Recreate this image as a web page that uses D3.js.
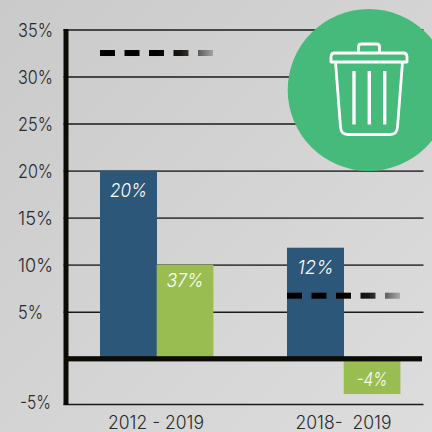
<!DOCTYPE html>
<html><head><meta charset="utf-8">
<script src="https://cdnjs.cloudflare.com/ajax/libs/d3/7.8.5/d3.min.js"></script>
<style>html,body{margin:0;padding:0;background:#d2d2d2}svg{display:block}text{font-family:Inter,Roboto,sans-serif}</style>
</head><body><div id="c"></div>
<script>
const periods = ["2012 - 2019", "2018-  2019"];
const totalValues = [20, 11.8];
const greenValues = [10, -3.9];
const totalLabels = ["20%", "12%"];
const greenLabels = ["37%", "-4%"];
const targetValues = [32.5, 6.7];
const tickValues = [35, 30, 25, 20, 15, 10, 5, -5];
const trashBars = [354, 369.3, 384.7];

const W = 432, H = 432;
const svg = d3.select("#c").append("svg").attr("width", W).attr("height", H);
const defs = svg.append("defs");
const bg = defs.append("linearGradient").attr("id", "bg").attr("x1", 0).attr("y1", 0).attr("x2", 1).attr("y2", 1);
bg.append("stop").attr("offset", 0).attr("stop-color", "#cacaca");
bg.append("stop").attr("offset", 1).attr("stop-color", "#dddddd");
svg.append("rect").attr("width", W).attr("height", H).attr("fill", "url(#bg)");

const y = d3.scaleLinear().domain([35, 0, -5]).range([29.5, 358.7, 404]);
const barW = 56.7;
const groupX = d3.scaleOrdinal().domain(periods).range([100, 287]);

const axis = d3.axisLeft(y).tickValues(tickValues).tickSize(-360).tickPadding(0).tickFormat(d => d + "%");
const ag = svg.append("g").attr("transform", "translate(63.5,0)").call(axis);
ag.select(".domain").remove();
ag.selectAll(".tick line").attr("stroke", d => (d <= 20 && d >= 10) ? "#444" : "#1a1a1a").attr("stroke-width", d => (d <= 20 && d >= 10) ? 1.8 : 1.5);
ag.selectAll(".tick text").attr("text-anchor", "start").attr("x", d => d === -5 ? -43.5 : -45.5)
  .attr("dy", d => d === -5 ? "0.22em" : ".36em")
  .attr("fill", "#2a2a2a").attr("font-size", 19).attr("font-weight", 300)
  .attr("textLength", d => d === 5 ? 25 : (d === -5 ? 31 : 35)).attr("lengthAdjust", "spacingAndGlyphs");

const g = svg.append("g");
g.selectAll(".b").data(periods).join("rect").attr("class", "b")
  .attr("x", d => groupX(d)).attr("width", barW + .3)
  .attr("y", (d, i) => y(totalValues[i])).attr("height", (d, i) => y(0) - y(totalValues[i]))
  .attr("fill", "#2c5779");
g.selectAll(".g").data(periods).join("rect").attr("class", "g")
  .attr("x", d => groupX(d) + barW).attr("width", barW)
  .attr("y", (d, i) => y(Math.max(0, greenValues[i])))
  .attr("height", (d, i) => Math.abs(y(greenValues[i]) - y(0)))
  .attr("fill", "#9abd52");

svg.append("rect").attr("x", 63.5).attr("y", 29).attr("width", 5).attr("height", 376).attr("fill", "#0d0b06");
svg.append("rect").attr("x", 66).attr("y", y(0) - 2.5).attr("width", 356).attr("height", 5.2).attr("fill", "#0d0b06");

const dashLen = 15, dashGap = 9.5;
const dashIdx = d3.range(5);
periods.forEach((p, i) => {
  const x0 = groupX(p), id = "fade" + i;
  const fade = defs.append("linearGradient").attr("id", id).attr("gradientUnits", "userSpaceOnUse")
    .attr("x1", x0).attr("x2", x0 + 113).attr("y1", 0).attr("y2", 0);
  fade.append("stop").attr("offset", .5).attr("stop-color", "#000");
  fade.append("stop").attr("offset", .72).attr("stop-color", "#1a1614");
  fade.append("stop").attr("offset", 1).attr("stop-color", "#000").attr("stop-opacity", .22);
  svg.append("g").selectAll("rect").data(dashIdx).join("rect")
    .attr("x", k => x0 + k * (dashLen + dashGap))
    .attr("y", y(targetValues[i]) - 3).attr("width", dashLen).attr("height", 6)
    .attr("fill", `url(#${id})`);
});

const lab = (sel, arr, offs, lens) => sel.selectAll("text").data(periods).join("text")
  .attr("x", d => groupX(d) + offs).attr("text-anchor", "middle")
  .attr("fill", "#fff").attr("font-size", 19).attr("font-style", "italic").attr("font-weight", 300)
  .attr("textLength", (d, i) => lens[i]).attr("lengthAdjust", "spacingAndGlyphs")
  .text((d, i) => arr[i]);
lab(svg.append("g"), totalLabels, 28.5, [37, 36]).attr("y", (d, i) => [197, 273.5][i]);
lab(svg.append("g"), greenLabels, 85, [37, 31]).attr("y", (d, i) => [287, 385.5][i]);

svg.append("g").selectAll("text").data(periods).join("text")
  .attr("x", (d, i) => [156, 343.5][i]).attr("y", 428.5).attr("text-anchor", "middle")
  .attr("fill", "#2a2a2a").attr("font-size", 18).attr("font-weight", 300)
  .attr("textLength", 96).attr("lengthAdjust", "spacingAndGlyphs").style("white-space", "pre")
  .text(d => d);

svg.append("circle").attr("cx", 368.7).attr("cy", 90).attr("r", 81).attr("fill", "#46ba7a");
const ic = svg.append("g").attr("fill", "none").attr("stroke", "#fff").attr("stroke-width", 2.8).attr("stroke-linejoin", "round");
ic.append("path").attr("d", "M331 62 V57 Q331 53 335 53 H403 Q407 53 407 57 V62 Z");
ic.append("path").attr("d", "M358.5 53 V47 Q358.5 44 361.5 44 H376.5 Q379.5 44 379.5 47 V53");
ic.append("path").attr("d", "M335.5 62 L340.5 127 Q341 134.5 348 134.5 H390 Q397 134.5 397.5 127 L402.5 62");
ic.selectAll("line").data(trashBars).join("line")
  .attr("x1", d => d).attr("x2", d => d).attr("y1", 71).attr("y2", 124.5)
  .attr("stroke-width", 3.4);
</script></body></html>
